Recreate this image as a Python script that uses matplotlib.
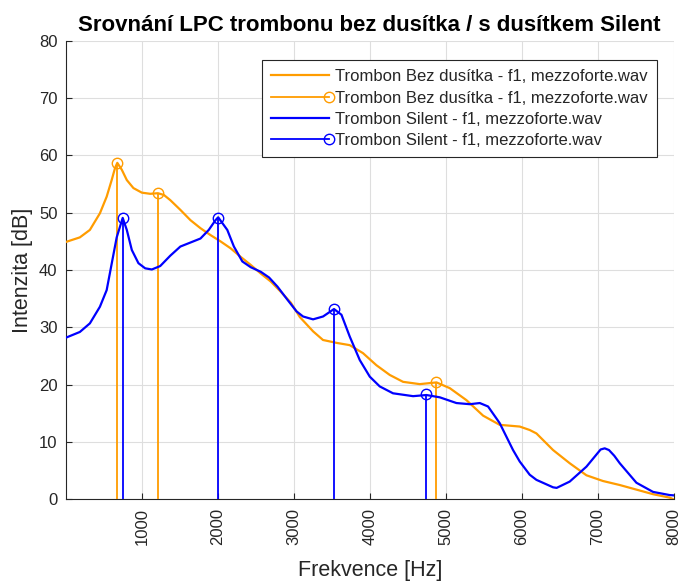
import matplotlib
matplotlib.use("Agg")
import matplotlib.pyplot as plt
from matplotlib.lines import Line2D
from matplotlib.legend_handler import HandlerLine2D

plt.rcParams['font.family'] = ['Liberation Sans', 'DejaVu Sans']

# ---- data ----
orange_f = [0, 184, 316, 448, 537, 603, 647, 677, 736, 802, 889, 1000, 1110, 1212,
            1290, 1374, 1507, 1640, 1772, 1904, 2036, 2168, 2301, 2433, 2565, 2697,
            2830, 2962, 3080, 3255, 3385, 3562, 3737, 3912, 4088, 4264, 4439, 4659,
            4879, 5054, 5274, 5493, 5711, 5975, 6106, 6195, 6414, 6633, 6853, 7071,
            7292, 7511, 7730, 7949, 8000]
orange_db = [44.9, 45.7, 47.0, 49.9, 52.8, 55.7, 57.8, 58.7, 57.5, 55.7, 54.3, 53.5, 53.3, 53.4,
             53.1, 52.2, 50.5, 48.7, 47.3, 46.1, 45.0, 43.8, 42.3, 40.9, 39.4, 38.0,
             36.2, 34.3, 31.8, 29.3, 27.8, 27.3, 26.9, 25.5, 23.4, 21.7, 20.5, 20.1,
             20.4, 19.4, 17.3, 14.6, 13.0, 12.7, 12.1, 11.5, 8.6, 6.3, 4.2, 3.2,
             2.5, 1.7, 0.9, 0.3, 0.0]

blue_f = [0, 184, 316, 448, 537, 603, 669, 748, 802, 868, 955, 1044, 1132, 1242,
          1374, 1507, 1640, 1772, 1881, 1970, 2005, 2125, 2212, 2323, 2433, 2565,
          2675, 2786, 2918, 3036, 3122, 3254, 3386, 3530, 3628, 3737, 3869, 4001,
          4132, 4307, 4571, 4747, 4922, 5142, 5317, 5449, 5558, 5669, 5711, 5887,
          5975, 6106, 6195, 6414, 6461, 6633, 6853, 6990, 7040, 7094, 7150, 7220,
          7292, 7511, 7730, 7949, 8000]
blue_db = [28.2, 29.2, 30.7, 33.6, 36.5, 41.1, 45.7, 49.1, 47.0, 43.5, 41.2, 40.3, 40.1, 40.7,
           42.5, 44.1, 44.8, 45.5, 47.0, 48.7, 49.2, 47.0, 44.1, 41.5, 40.5, 39.7,
           38.7, 37.1, 34.8, 32.8, 31.9, 31.4, 31.9, 33.2, 32.2, 28.4, 24.3, 21.4,
           19.7, 18.5, 18.0, 18.2, 17.8, 16.8, 16.6, 16.8, 16.2, 14.1, 13.3, 8.6,
           6.6, 4.3, 3.4, 2.1, 2.0, 3.1, 5.7, 7.9, 8.7, 8.9, 8.6, 7.6,
           6.3, 2.9, 1.3, 0.75, 0.7]

orange_peak_f = [677, 1208, 4879]
orange_peak_db = [58.7, 53.4, 20.4]
blue_peak_f = [747, 2005, 3530, 4747]
blue_peak_db = [49.0, 49.1, 33.2, 18.3]

label_bez = 'Trombon Bez dusítka - f1, mezzoforte.wav'
label_sil = 'Trombon Silent - f1, mezzoforte.wav'
title = 'Srovnání LPC trombonu bez dusítka / s dusítkem Silent'
xticks = [1000, 2000, 3000, 4000, 5000, 6000, 7000, 8000]
yticks = [0, 10, 20, 30, 40, 50, 60, 70, 80]

ORANGE = '#FF9C00'
BLUE = '#0000FF'
TXT = '#262626'

fig = plt.figure(figsize=(6.82, 5.82), dpi=100)
ax = fig.add_axes([0.0966, 0.142, 0.891, 0.788])

ax.plot(orange_f, orange_db, color=ORANGE, lw=1.6, label=label_bez, zorder=3,
        solid_joinstyle='round')
ax.vlines(orange_peak_f, 0, orange_peak_db, color=ORANGE, lw=1.3, zorder=3)
ax.plot(orange_peak_f, orange_peak_db, 'o', ms=7.5, mfc='none', mec=ORANGE, mew=1.0, zorder=4)
ax.plot(blue_f, blue_db, color=BLUE, lw=1.6, label=label_sil, zorder=3,
        solid_joinstyle='round')
ax.vlines(blue_peak_f, 0, blue_peak_db, color=BLUE, lw=1.3, zorder=3)
ax.plot(blue_peak_f, blue_peak_db, 'o', ms=7.5, mfc='none', mec=BLUE, mew=1.0, zorder=4)

ax.set_xlim(0, 8000)
ax.set_ylim(0, 80)
ax.set_xticks(xticks)
ax.set_yticks(yticks)
ax.tick_params(axis='x', labelrotation=90)
ax.tick_params(direction='in', length=4, colors=TXT, labelsize=12, width=0.8, pad=6)
ax.grid(True, color='#dedede', lw=0.8)
ax.set_axisbelow(True)
for s in ['top', 'right']:
    ax.spines[s].set_visible(False)
for s in ['left', 'bottom']:
    ax.spines[s].set_color(TXT)
    ax.spines[s].set_linewidth(0.8)

ax.set_xlabel('Frekvence [Hz]', fontsize=15.5, color=TXT, labelpad=11)
ax.set_ylabel('Intenzita [dB]', fontsize=15.5, color=TXT, labelpad=4)
ax.set_title(title, fontsize=16, fontweight='bold', color='black', pad=7)


class StemHandler(HandlerLine2D):
    def create_artists(self, legend, orig_handle, xdescent, ydescent, width,
                       height, fontsize, trans):
        y = height / 2 - ydescent
        x0, x1 = -xdescent, -xdescent + width
        line = Line2D([x0, x1], [y, y], color=orig_handle.get_color(),
                      lw=orig_handle.get_linewidth())
        mk = Line2D([x1], [y], marker='o', ms=7.5, mfc='none',
                    mec=orig_handle.get_color(), mew=1.0, ls='none')
        line.set_transform(trans)
        mk.set_transform(trans)
        return [line, mk]


h1 = Line2D([], [], color=ORANGE, lw=1.6)
h2 = Line2D([], [], color=ORANGE, lw=1.3)
h3 = Line2D([], [], color=BLUE, lw=1.6)
h4 = Line2D([], [], color=BLUE, lw=1.3)
leg = ax.legend([h1, h2, h3, h4], [label_bez, label_bez, label_sil, label_sil],
                handler_map={h2: StemHandler(), h4: StemHandler()},
                loc='upper right', bbox_to_anchor=(0.9725, 0.958), borderaxespad=0,
                fontsize=12, handlelength=3.5, handletextpad=0.35,
                labelspacing=0.38, fancybox=False, framealpha=1,
                edgecolor='#262626', borderpad=0.55)
leg.get_frame().set_linewidth(0.8)
for t in leg.get_texts():
    t.set_color(TXT)

fig.savefig('out.png', dpi=100)
